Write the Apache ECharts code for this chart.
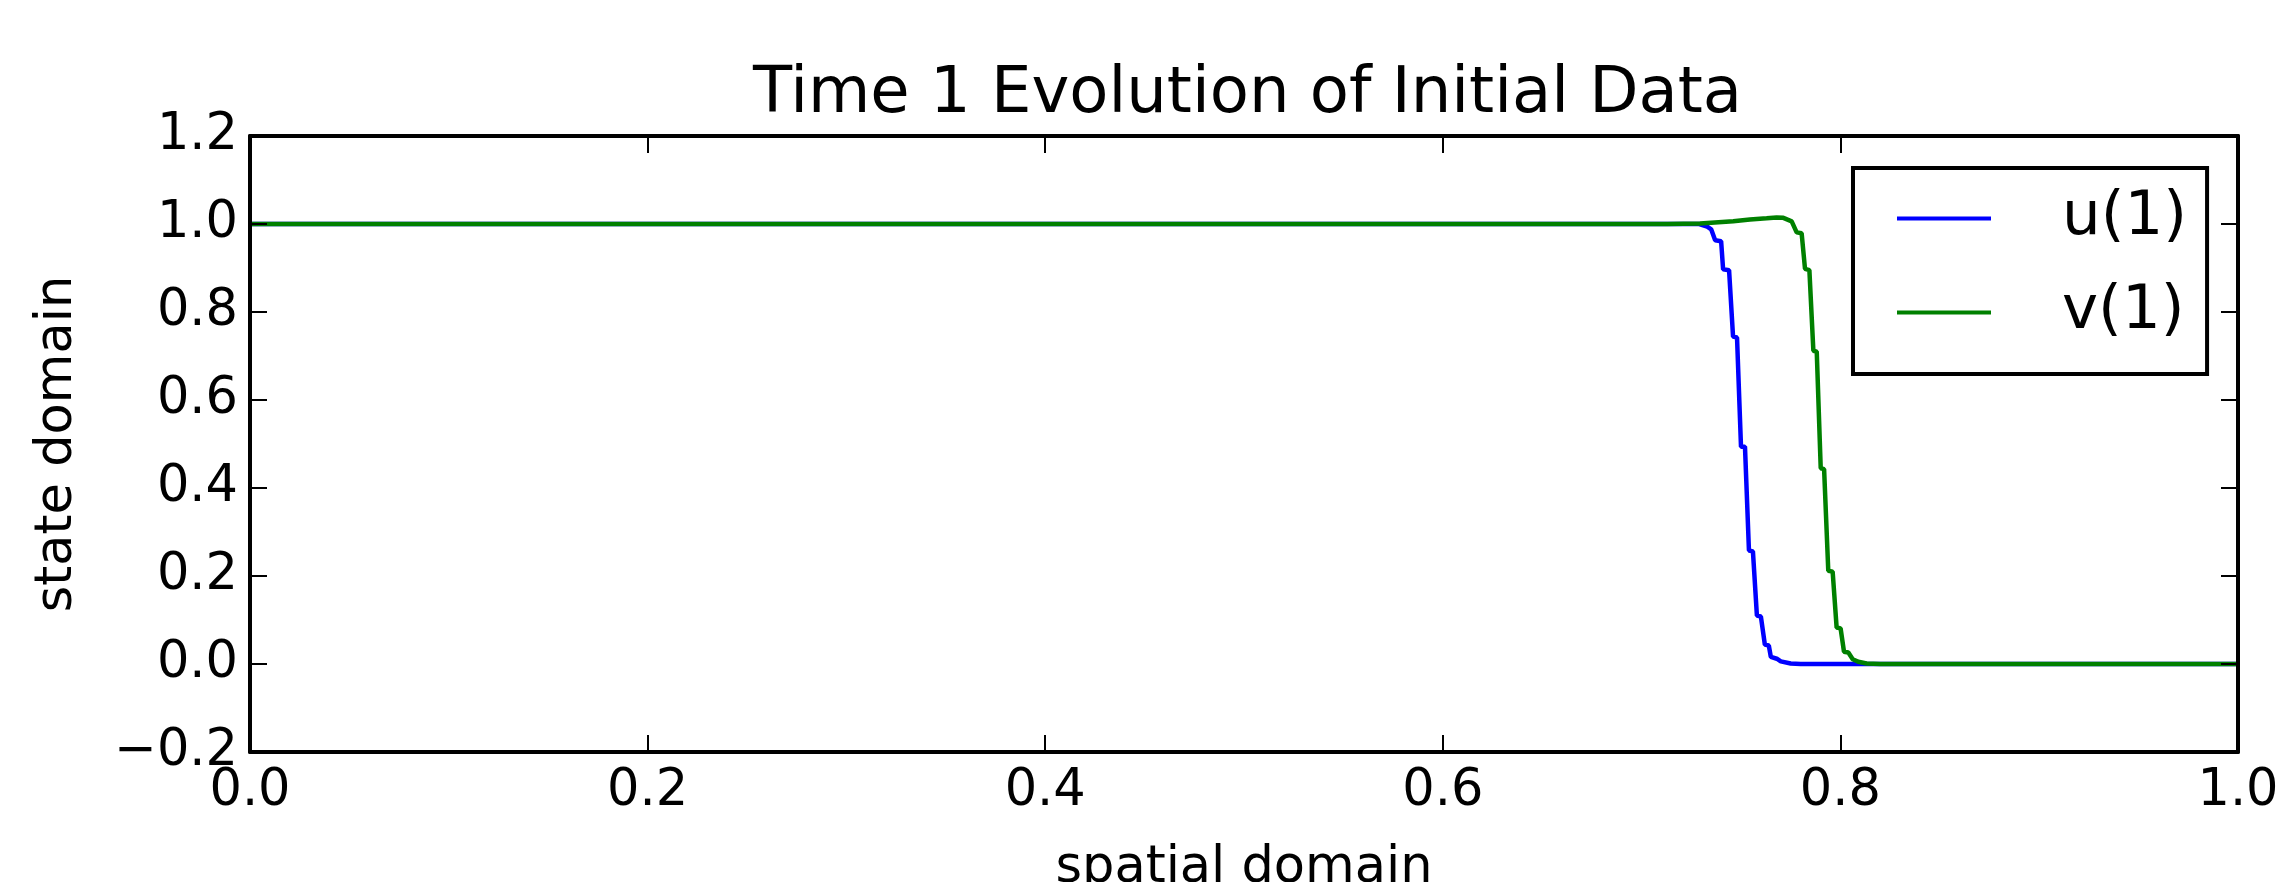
<!DOCTYPE html>
<html>
<head>
<meta charset="utf-8">
<script src="https://cdn.jsdelivr.net/npm/echarts@6/dist/echarts.min.js"></script>
<style>
html,body{margin:0;padding:0;background:#fff;}
#c{width:2286px;height:882px;}
</style>
</head>
<body>
<div id="c"></div>
<script>
// ---- data ----
const uX = [0, 0.729, 0.733, 0.735, 0.737, 0.740, 0.741, 0.744, 0.746, 0.748, 0.750, 0.752, 0.754, 0.756, 0.758, 0.760, 0.762, 0.764, 0.765, 0.768, 0.770, 0.775, 0.780, 1];
const uY = [1, 1, 0.994, 0.988, 0.963, 0.961, 0.897, 0.895, 0.744, 0.742, 0.494, 0.494, 0.258, 0.256, 0.110, 0.108, 0.044, 0.042, 0.016, 0.012, 0.006, 0.001, 0, 0];
const vX = [0, 0.713, 0.7294, 0.7461, 0.7545, 0.7629, 0.7679, 0.7713, 0.7755, 0.7780, 0.7805, 0.7822, 0.7844, 0.7864, 0.7881, 0.7901, 0.7918, 0.7939, 0.7961, 0.7981, 0.8001, 0.8018, 0.8040, 0.8062, 0.8090, 0.8132, 0.82, 1];
const vY = [1, 1, 1.001, 1.006, 1.010, 1.013, 1.015, 1.014, 1.006, 0.981, 0.979, 0.898, 0.895, 0.712, 0.710, 0.445, 0.443, 0.212, 0.210, 0.083, 0.081, 0.028, 0.026, 0.011, 0.005, 0.001, 0, 0];
const xTickLabels = ['0.0', '0.2', '0.4', '0.6', '0.8', '1.0'];
const yTickLabels = ['\u22120.2', '0.0', '0.2', '0.4', '0.6', '0.8', '1.0', '1.2'];
const seriesNames = ['u(1)', 'v(1)'];
const titleText = 'Time 1 Evolution of Initial Data';
const xName = 'spatial domain';
const yName = 'state domain';

const zip = (xs, ys) => xs.map((x, i) => [x, ys[i]]);
const FONT = 'DejaVu Sans';

const chart = echarts.init(document.getElementById('c'), null, {renderer: 'canvas'});

const axisCommon = {
  type: 'value',
  z: 5,
  axisLine: {show: true, onZero: false, lineStyle: {color: '#000', width: 4}},
  axisTick: {show: true, inside: true, length: 17, lineStyle: {color: '#000', width: 2}},
  splitLine: {show: false}
};

chart.setOption({
  animation: false,
  backgroundColor: '#fff',
  textStyle: {fontFamily: FONT, color: '#000'},
  title: {
    text: titleText,
    left: 753,
    top: 63,
    padding: 0,
    textStyle: {fontFamily: FONT, fontSize: 64, fontWeight: 'normal', color: '#000'}
  },
  grid: {left: 250, right: 48, top: 136, bottom: 130, containLabel: false, outerBoundsMode: 'none'},
  legend: {
    orient: 'vertical',
    left: 1853,
    top: 168,
    z: 10,
    padding: [20, 20, 31, 44],
    itemGap: 33,
    itemWidth: 94,
    itemHeight: 4,
    icon: 'rect',
    align: 'left',
    backgroundColor: '#fff',
    borderColor: '#000',
    borderWidth: 4,
    borderRadius: 0,
    data: seriesNames,
    textStyle: {fontFamily: FONT, fontSize: 61, color: '#000', padding: [0, 0, 0, 66]}
  },
  xAxis: [
    Object.assign({}, axisCommon, {
      position: 'bottom', min: 0, max: 1, interval: 0.2,
      axisLabel: {show: true, margin: 14, fontSize: 51, color: '#000', fontFamily: FONT,
        formatter: (v, i) => xTickLabels[i]},
      name: xName, nameLocation: 'middle', nameGap: 91,
      nameTextStyle: {fontSize: 51, color: '#000', fontFamily: FONT}
    }),
    Object.assign({}, axisCommon, {
      position: 'top', min: 0, max: 1, interval: 0.2,
      axisLabel: {show: false}
    })
  ],
  yAxis: [
    Object.assign({}, axisCommon, {
      position: 'left', min: -0.2, max: 1.2, interval: 0.2,
      axisLabel: {show: true, margin: 12, fontSize: 51, color: '#000', fontFamily: FONT,
        formatter: (v, i) => yTickLabels[i]},
      name: yName, nameLocation: 'middle', nameGap: 167,
      nameTextStyle: {fontSize: 51, color: '#000', fontFamily: FONT}
    }),
    Object.assign({}, axisCommon, {
      position: 'right', min: -0.2, max: 1.2, interval: 0.2,
      axisLabel: {show: false}
    })
  ],
  series: [
    {name: seriesNames[0], type: 'line', xAxisIndex: 0, yAxisIndex: 0, data: zip(uX, uY),
     symbol: 'none', color: '#0000ff', lineStyle: {color: '#0000ff', width: 4.5}},
    {name: seriesNames[1], type: 'line', xAxisIndex: 0, yAxisIndex: 0, data: zip(vX, vY),
     symbol: 'none', color: '#008000', lineStyle: {color: '#008000', width: 4.5}}
  ]
});
</script>
</body>
</html>
